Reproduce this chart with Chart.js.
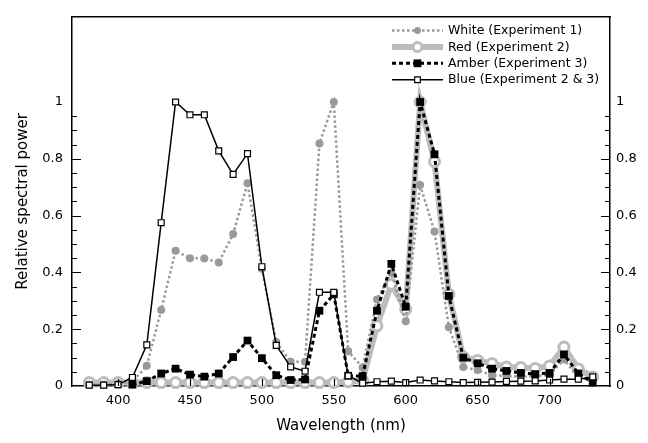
<!DOCTYPE html>
<html>
<head>
<meta charset="utf-8">
<script src="https://cdn.jsdelivr.net/npm/chart.js@4.4.0/dist/chart.umd.min.js"></script>
<style>
  html, body { margin: 0; padding: 0; background: #fff; }
  #wrap { width: 648px; height: 443px; }
</style>
</head>
<body>
<div id="wrap"><canvas id="spectrum" width="648" height="443"></canvas></div>
<script>
let fontFamily = "'DejaVu Sans', Verdana, sans-serif";

let wavelengths = [380, 390, 400, 410, 420, 430, 440, 450, 460, 470, 480, 490,
    500, 510, 520, 530, 540, 550, 560, 570, 580, 590, 600, 610,
    620, 630, 640, 650, 660, 670, 680, 690, 700, 710, 720, 730];

let white = [0.005, 0.005, 0.008, 0.015, 0.071, 0.268, 0.476, 0.45, 0.449, 0.435, 0.535, 0.714,
    0.413, 0.155, 0.085, 0.085, 0.854, 1.0, 0.122, 0.065, 0.305, 0.398, 0.228, 0.708,
    0.544, 0.207, 0.067, 0.056, 0.038, 0.035, 0.033, 0.035, 0.04, 0.093, 0.03, 0.02];

let red = [0.012, 0.012, 0.012, 0.012, 0.012, 0.012, 0.012, 0.012, 0.012, 0.012, 0.012, 0.012,
    0.012, 0.012, 0.012, 0.012, 0.012, 0.012, 0.015, 0.02, 0.212, 0.358, 0.27, 1.0,
    0.79, 0.323, 0.102, 0.09, 0.079, 0.067, 0.065, 0.062, 0.07, 0.137, 0.06, 0.032];

let amber = [null, null, null, 0.005, 0.017, 0.044, 0.061, 0.04, 0.033, 0.044, 0.102, 0.16,
    0.098, 0.038, 0.021, 0.023, 0.265, 0.323, 0.036, 0.035, 0.265, 0.43, 0.279, 1.0,
    0.816, 0.317, 0.1, 0.08, 0.061, 0.053, 0.046, 0.042, 0.046, 0.111, 0.044, 0.012];

let blue = [0.003, 0.003, 0.005, 0.03, 0.145, 0.575, 1.0, 0.955, 0.955, 0.828, 0.745, 0.818,
    0.42, 0.143, 0.067, 0.052, 0.33, 0.33, 0.036, 0.01, 0.015, 0.017, 0.012, 0.021,
    0.018, 0.015, 0.012, 0.013, 0.014, 0.016, 0.017, 0.018, 0.021, 0.024, 0.024, 0.032];

let seriesNames = ["White (Experiment 1)", "Red (Experiment 2)", "Amber (Experiment 3)", "Blue (Experiment 2 & 3)"];

let xTicks = [400, 450, 500, 550, 600, 650, 700];
let yTicks = [0, 0.2, 0.4, 0.6, 0.8, 1];

function points(values){
    return wavelengths.map((w, i) => ({x: w, y: values[i]}));
}

// axes are drawn with ticks pointing into the plot, plus a closed top edge
let frameTicks = {
    id: 'frameTicks',
    afterDatasetsDraw(chart){
        let ctx = chart.ctx;
        let area = chart.chartArea;
        let xs = chart.scales.x;
        let ys = chart.scales.y;
        ctx.save();
        ctx.strokeStyle = '#000';
        ctx.lineWidth = 1.5;
        ctx.beginPath();
        ctx.moveTo(area.left - 0.75, area.top);
        ctx.lineTo(area.right + 0.75, area.top);
        ctx.stroke();
        ctx.lineWidth = 1.2;
        ctx.beginPath();
        for (let k = 1; k < 20; k++) {
            let py = Math.round(ys.getPixelForValue(k * 0.05)) + 0.5;
            let len = (k % 4 === 0) ? 9 : 5;
            ctx.moveTo(area.left, py);
            ctx.lineTo(area.left + len, py);
            ctx.moveTo(area.right, py);
            ctx.lineTo(area.right - len, py);
        }
        xTicks.forEach((v) => {
            let px = Math.round(xs.getPixelForValue(v)) + 0.5;
            ctx.moveTo(px, area.bottom);
            ctx.lineTo(px, area.bottom - 7);
        });
        ctx.stroke();
        ctx.restore();
    },
    afterDraw(chart){
        // legend box in the top right corner of the plot
        let ctx = chart.ctx;
        ctx.save();
        let x0 = 392, x1 = 443, textX = 448;
        let mx = (x0 + x1) / 2;
        seriesNames.forEach((name, i) => {
            let ds = chart.data.datasets[i];
            let y = 30.5 + i * 16.4;
            ctx.beginPath();
            ctx.strokeStyle = ds.borderColor;
            ctx.lineWidth = ds.borderWidth;
            ctx.setLineDash(ds.borderDash || []);
            ctx.moveTo(x0, y);
            ctx.lineTo(x1, y);
            ctx.stroke();
            ctx.setLineDash([]);
            ctx.fillStyle = ds.pointBackgroundColor;
            ctx.strokeStyle = ds.pointBorderColor;
            ctx.lineWidth = ds.pointBorderWidth;
            ctx.beginPath();
            if (ds.pointStyle === 'circle') {
                ctx.arc(mx, y, ds.legendRadius, 0, Math.PI * 2);
            } else {
                let s = ds.legendRadius * Math.SQRT1_2;
                ctx.rect(mx - s, y - s, 2 * s, 2 * s);
            }
            ctx.fill();
            if (ds.pointBorderWidth > 0) ctx.stroke();
            ctx.fillStyle = '#000';
            ctx.font = "12.5px " + fontFamily;
            ctx.textBaseline = 'middle';
            ctx.textAlign = 'left';
            ctx.fillText(name, textX, y + 0.5);
        });
        ctx.restore();
    }
};

let ctx = document.getElementById('spectrum').getContext('2d');
let chart = new Chart(ctx, {
    type: 'line',
    data: {
        datasets: [{
            label: seriesNames[0],
            data: points(white),
            order: 2,
            borderColor: '#9a9a9a',
            borderWidth: 2.5,
            borderDash: [2.5, 2.5],
            pointStyle: 'circle',
            pointRadius: 4,
            legendRadius: 3.5,
            pointBackgroundColor: '#9a9a9a',
            pointBorderColor: '#9a9a9a',
            pointBorderWidth: 0
        },
        {
            label: seriesNames[1],
            data: points(red),
            order: 3,
            borderColor: '#bcbcbc',
            borderWidth: 6,
            pointStyle: 'circle',
            pointRadius: 5,
            legendRadius: 4.5,
            pointBackgroundColor: '#ffffff',
            pointBorderColor: '#bcbcbc',
            pointBorderWidth: 3
        },
        {
            label: seriesNames[2],
            data: points(amber),
            order: 1,
            borderColor: '#000000',
            borderWidth: 3,
            borderDash: [4, 3],
            pointStyle: 'rect',
            pointRadius: 5.5,
            legendRadius: 5.5,
            pointBackgroundColor: '#000000',
            pointBorderColor: '#000000',
            pointBorderWidth: 0
        },
        {
            label: seriesNames[3],
            data: points(blue),
            order: 0,
            borderColor: '#000000',
            borderWidth: 1.5,
            pointStyle: 'rect',
            pointRadius: 4.2,
            legendRadius: 4,
            pointBackgroundColor: '#ffffff',
            pointBorderColor: '#000000',
            pointBorderWidth: 1.2
        }]
    },
    options: {
        responsive: false,
        animation: false,
        devicePixelRatio: 1,
        layout: { padding: { top: 12, left: 0, right: 0, bottom: 0 } },
        elements: { line: { tension: 0 } },
        datasets: { line: { clip: false, spanGaps: false } },
        plugins: {
            legend: { display: false },
            tooltip: { enabled: false }
        },
        scales: {
            x: {
                type: 'linear',
                position: 'bottom',
                min: 368,
                max: 742,
                afterBuildTicks: (s) => { s.ticks = xTicks.map(v => ({value: v})); },
                afterFit: (s) => { s.height = 57; },
                grid: { display: false, drawTicks: false },
                border: { display: true, color: '#000', width: 1.5 },
                ticks: {
                    padding: 7,
                    color: '#000',
                    autoSkip: false,
                    maxRotation: 0,
                    font: { family: fontFamily, size: 13 }
                },
                title: {
                    display: true,
                    text: 'Wavelength (nm)',
                    color: '#000',
                    font: { family: fontFamily, size: 15 },
                    padding: { top: 0, bottom: 8 }
                }
            },
            y: {
                type: 'linear',
                position: 'left',
                min: 0,
                max: 1.3,
                afterBuildTicks: (s) => { s.ticks = yTicks.map(v => ({value: v})); },
                afterFit: (s) => { s.width = 72; },
                grid: { display: false, drawTicks: false },
                border: { display: true, color: '#000', width: 1.5 },
                ticks: {
                    padding: 9,
                    color: '#000',
                    font: { family: fontFamily, size: 13 },
                    callback: (v) => String(Math.round(v * 10) / 10)
                },
                title: {
                    display: true,
                    text: 'Relative spectral power',
                    color: '#000',
                    font: { family: fontFamily, size: 15 },
                    padding: { top: 14, bottom: 0 }
                }
            },
            y2: {
                type: 'linear',
                position: 'right',
                min: 0,
                max: 1.3,
                afterBuildTicks: (s) => { s.ticks = yTicks.map(v => ({value: v})); },
                afterFit: (s) => { s.width = 38; },
                grid: { display: false, drawTicks: false },
                border: { display: true, color: '#000', width: 1.5 },
                ticks: {
                    padding: 6,
                    color: '#000',
                    font: { family: fontFamily, size: 13 },
                    callback: (v) => String(Math.round(v * 10) / 10)
                }
            }
        }
    },
    plugins: [frameTicks]
});
</script>
</body>
</html>
